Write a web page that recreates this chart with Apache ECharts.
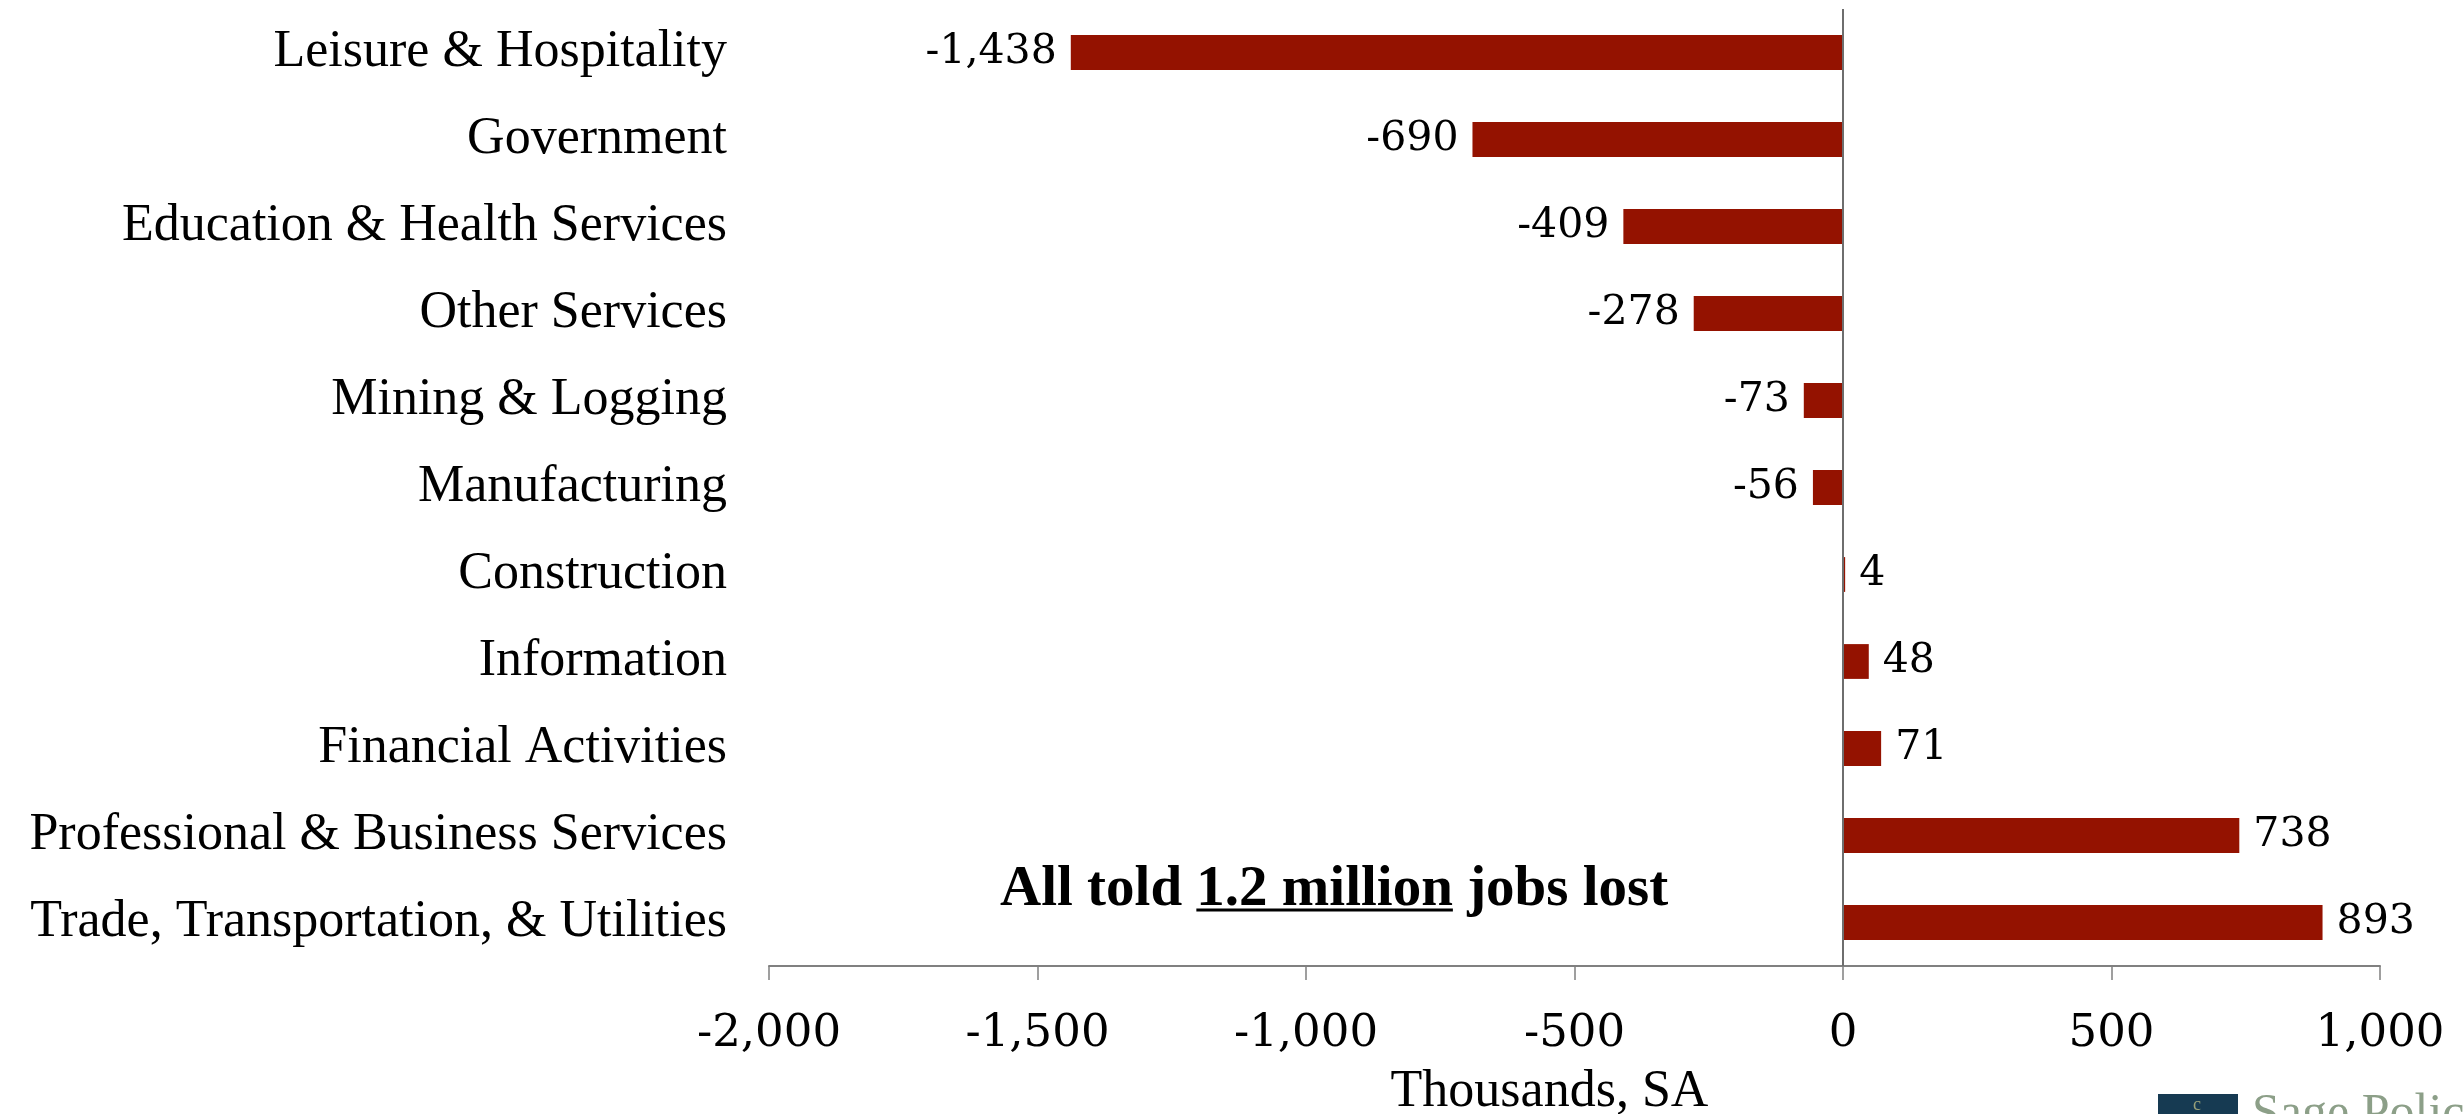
<!DOCTYPE html>
<html>
<head>
<meta charset="utf-8">
<script src="https://cdn.jsdelivr.net/npm/echarts@6/dist/echarts.min.js"></script>
<style>
html,body{margin:0;padding:0;background:#fff;}
#chart{width:2463px;height:1114px;}
</style>
</head>
<body>
<div id="chart"></div>
<script>
const categories = ["Leisure & Hospitality","Government","Education & Health Services","Other Services","Mining & Logging","Manufacturing","Construction","Information","Financial Activities","Professional & Business Services","Trade, Transportation, & Utilities"];
const values = [-1438, -690, -409, -278, -73, -56, 4, 48, 71, 738, 893];
const xTicks = [-2000, -1500, -1000, -500, 0, 500, 1000];
const annotationParts = ["All told ", "1.2 million", " jobs lost"];
const axisTitle = "Thousands, SA";

const catFont = '"Liberation Serif", serif';
const numFont = '"DejaVu Serif", serif';
const barColor = '#941200';

function fmt(v){ return v.toLocaleString('en-US'); }

const chart = echarts.init(document.getElementById('chart'));

// measure annotation text for underline
const annFontSize = 57;
const annFont = 'bold ' + annFontSize + 'px "Liberation Serif"';
const ctx = document.createElement('canvas').getContext('2d');
ctx.font = annFont;
const w0 = ctx.measureText(annotationParts[0]).width;
const w1 = ctx.measureText(annotationParts[1]).width;
const annX = 1000, annBase = 904;

const option = {
  backgroundColor: '#ffffff',
  animation: false,
  grid: {left: 769, right: 83, top: 9, bottom: 148, containLabel: false, outerBoundsMode: 'none'},
  xAxis: {
    type: 'value',
    min: xTicks[0], max: xTicks[xTicks.length-1], interval: 500,
    axisLine: {show: true, onZero: false, lineStyle: {color: '#808080', width: 2}},
    axisTick: {show: true, length: 14, lineStyle: {color: '#808080', width: 1.5}},
    splitLine: {show: false},
    axisLabel: {color: '#000', fontFamily: numFont, fontSize: 45, margin: 46, formatter: v => fmt(v)},
    name: axisTitle, nameLocation: 'middle', nameGap: 100,
    nameTextStyle: {color: '#000', fontFamily: catFont, fontSize: 52, padding: [0, 50, 0, 0]}
  },
  yAxis: {
    type: 'category',
    data: categories,
    inverse: true,
    axisLine: {show: false, onZero: false},
    axisTick: {show: false},
    axisLabel: {color: '#000', fontFamily: catFont, fontSize: 52, margin: 42}
  },
  series: [{
    type: 'bar',
    data: values.map(v => ({
      value: v,
      label: {position: v < 0 ? 'left' : 'right'}
    })),
    barWidth: '40%',
    itemStyle: {color: barColor},
    label: {show: true, color: '#000', fontFamily: numFont, fontSize: 41, distance: 14, formatter: p => fmt(p.value)},
    markLine: {
      silent: true, symbol: 'none', label: {show: false},
      lineStyle: {color: '#6e6e6e', width: 2, type: 'solid'},
      data: [{xAxis: 0}]
    }
  }],
  graphic: [
    {type: 'text', left: annX, top: annBase - 42, z: 10,
      style: {text: annotationParts.join(''), font: annFont, fill: '#000', textVerticalAlign: 'alphabetic'}},
    {type: 'line', z: 10, shape: {x1: annX + w0, y1: annBase + 6, x2: annX + w0 + w1, y2: annBase + 6},
      style: {stroke: '#000', lineWidth: 3}},
    {type: 'rect', z: 10, shape: {x: 2158, y: 1094, width: 80, height: 30}, style: {fill: '#163a52'}},
    {type: 'text', z: 11, left: 2193, top: 1096, style: {text: 'c', font: '18px "Liberation Serif"', fill: '#9aa27a'}},
    {type: 'text', z: 10, left: 2252, top: 1090,
      style: {text: 'Sage Policy Group', font: '50px "Liberation Serif"', fill: '#8c9f88'}}
  ]
};
chart.setOption(option);
</script>
</body>
</html>
